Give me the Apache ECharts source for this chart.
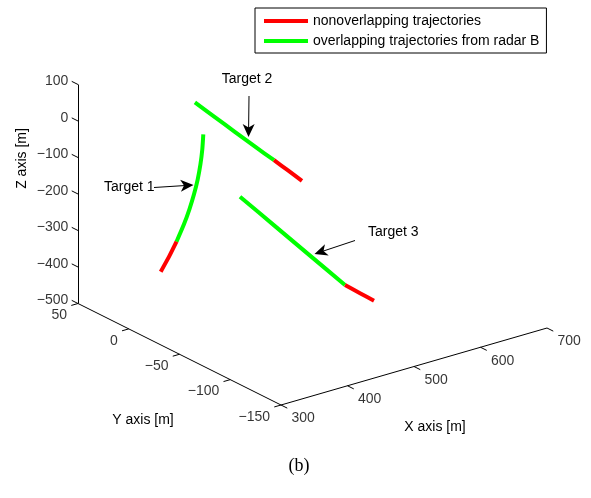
<!DOCTYPE html>
<html>
<head>
<meta charset="utf-8">
<script src="https://cdn.jsdelivr.net/npm/echarts@6/dist/echarts.min.js"></script>
<style>
  html, body { margin: 0; padding: 0; background: #fff; }
  #chart { width: 591px; height: 498px; }
</style>
</head>
<body>
<div id="chart"></div>
<script>
// Trajectory samples, [X, Y, Z] in metres
const target1Overlap = [[412.1, 0, -26.0], [410.6, 0, -66.4], [407.8, 0, -106.0], [403.7, 0, -144.9],
                        [398.1, 0, -183.1], [391.2, 0, -220.5], [383.0, 0, -257.3], [371.8, 0, -299.0]];
const target1Nonoverlap = [[371.8, 0, -299.0], [360.6, 0, -334.2], [348.1, 0, -368.7]];

const target2Overlap = [[430, 20, 24], [460, 20, -32], [490, 20, -88], [520, 20, -144], [549, 20, -197]];
const target2Nonoverlap = [[549, 20, -197], [570, 20, -236], [591, 20, -276]];

const target3Overlap = [[375.7, -60, -94.4], [428.3, -60, -202.7], [481.0, -60, -311.3], [533.6, -60, -419.6]];
const target3Nonoverlap = [[533.6, -60, -419.6], [556.2, -60, -454.2], [577.2, -60, -485.6]];

// Axis limits and ticks
const xRange = [300, 700];
const yRange = [-150, 50];
const zRange = [-500, 100];
const xTicks = [300, 400, 500, 600, 700];
const yTicks = [50, 0, -50, -100, -150];
const zTicks = [100, 0, -100, -200, -300, -400, -500];

const seriesNames = ['nonoverlapping trajectories', 'overlapping trajectories from radar B'];
const targetNames = ['Target 1', 'Target 2', 'Target 3'];

// Orthographic view: screen point of the (xMin, yMin, zMin) corner and the screen span of each axis
const view = {
  origin: [281, 405],
  xSpan: [266, -77],
  ySpan: [-203, -101.5],
  zSpan: [0, -219]
};

function project(p) {
  const u = (p[0] - xRange[0]) / (xRange[1] - xRange[0]);
  const v = (p[1] - yRange[0]) / (yRange[1] - yRange[0]);
  const w = (p[2] - zRange[0]) / (zRange[1] - zRange[0]);
  return [
    view.origin[0] + u * view.xSpan[0] + v * view.ySpan[0] + w * view.zSpan[0],
    view.origin[1] + u * view.xSpan[1] + v * view.ySpan[1] + w * view.zSpan[1]
  ];
}
function unit(vec) {
  const l = Math.hypot(vec[0], vec[1]);
  return [vec[0] / l, vec[1] / l];
}

const FONT = '"Liberation Sans", Arial, Helvetica, sans-serif';
const TICK = 7;
const RED = '#ff0000';
const GREEN = '#00ff00';

// Box edges that are drawn: X along y=min, Y along x=min, Z at (x=min, y=max)
const axisSegs = [
  [[xRange[0], yRange[0], zRange[0]], [xRange[1], yRange[0], zRange[0]]],
  [[xRange[0], yRange[0], zRange[0]], [xRange[0], yRange[1], zRange[0]]],
  [[xRange[0], yRange[1], zRange[0]], [xRange[0], yRange[1], zRange[1]]]
].map(s => ({ coords: s.map(project) }));

const yDir = unit(view.ySpan);
const xDir = unit(view.xSpan);
const tickSegs = [];
const tickLabels = [];
xTicks.forEach(t => {
  const a = project([t, yRange[0], zRange[0]]);
  tickSegs.push({ coords: [a, [a[0] - yDir[0] * TICK, a[1] - yDir[1] * TICK]] });
  tickLabels.push({ value: [a[0] + 10.5, a[1] + 13.5], text: String(t), align: 'left' });
});
yTicks.forEach(t => {
  const a = project([xRange[0], t, zRange[0]]);
  tickSegs.push({ coords: [a, [a[0] - xDir[0] * TICK, a[1] - xDir[1] * TICK]] });
  tickLabels.push({ value: [a[0] - 11, a[1] + 12], text: String(t).replace('-', '\u2212'), align: 'right' });
});
zTicks.forEach(t => {
  const a = project([xRange[0], yRange[1], t]);
  const e = [a[0] + yDir[0] * TICK, a[1] + yDir[1] * TICK];
  tickSegs.push({ coords: [a, e] });
  tickLabels.push({ value: [e[0] - 3.5, e[1]], text: String(t).replace('-', '\u2212'), align: 'right' });
});

function trajSeries(name, pts, color) {
  return {
    type: 'line', name: name, data: pts.map(project), color: color,
    showSymbol: false, symbol: 'none', smooth: 0.2,
    lineStyle: { width: 4, color: color, cap: 'butt', join: 'round' },
    z: 5, silent: true
  };
}

// Axis titles sit beside the middle of each axis
const xMid = project([(xRange[0] + xRange[1]) / 2, yRange[0], zRange[0]]);
const yMid = project([xRange[0], (yRange[0] + yRange[1]) / 2, zRange[0]]);
const zMid = project([xRange[0], yRange[1], (zRange[0] + zRange[1]) / 2 + 100]);

// Callouts: label anchor, arrow tail, arrow tip
const callouts = [
  { text: targetNames[0], label: [104, 187], align: 'left', tail: [154, 187.5], tip: [193.5, 185] },
  { text: targetNames[1], label: [247, 79], align: 'center', tail: [249, 96], tip: [248.5, 137] },
  { text: targetNames[2], label: [368, 232], align: 'left', tail: [355, 240.5], tip: [314.5, 254] }
];

function arrowHead(tail, tip) {
  const d = unit([tip[0] - tail[0], tip[1] - tail[1]]);
  const n = [-d[1], d[0]];
  const L = 13, W = 6, notch = 9.5;
  return [
    tip,
    [tip[0] - d[0] * L + n[0] * W, tip[1] - d[1] * L + n[1] * W],
    [tip[0] - d[0] * notch, tip[1] - d[1] * notch],
    [tip[0] - d[0] * L - n[0] * W, tip[1] - d[1] * L - n[1] * W]
  ];
}

const graphics = [];
callouts.forEach(c => {
  const d = unit([c.tip[0] - c.tail[0], c.tip[1] - c.tail[1]]);
  graphics.push({
    type: 'line', silent: true,
    shape: { x1: c.tail[0], y1: c.tail[1], x2: c.tip[0] - d[0] * 9, y2: c.tip[1] - d[1] * 9 },
    style: { stroke: '#000', lineWidth: 1 }
  });
  graphics.push({
    type: 'polygon', silent: true,
    shape: { points: arrowHead(c.tail, c.tip) },
    style: { fill: '#000' }
  });
  graphics.push({
    type: 'text', silent: true, x: c.label[0], y: c.label[1],
    style: { text: c.text, font: '14px ' + FONT, fill: '#000', align: c.align, verticalAlign: 'middle' }
  });
});
graphics.push({
  type: 'text', silent: true, x: xMid[0] + 21, y: xMid[1] + 60.5,
  style: { text: 'X axis [m]', font: '14px ' + FONT, fill: '#000', align: 'center', verticalAlign: 'middle' }
});
graphics.push({
  type: 'text', silent: true, x: yMid[0] - 36.5, y: yMid[1] + 66,
  style: { text: 'Y axis [m]', font: '14px ' + FONT, fill: '#000', align: 'center', verticalAlign: 'middle' }
});
graphics.push({
  type: 'text', silent: true, x: zMid[0] - 56, y: zMid[1] + 1, rotation: Math.PI / 2,
  style: { text: 'Z axis [m]', font: '14px ' + FONT, fill: '#000', align: 'center', verticalAlign: 'middle' }
});
graphics.push({
  type: 'text', silent: true, x: 299, y: 466,
  style: { text: '(b)', font: '18px "Liberation Serif", "Times New Roman", serif', fill: '#000', align: 'center', verticalAlign: 'middle' }
});

const chart = echarts.init(document.getElementById('chart'), null, { renderer: 'canvas' });
chart.setOption({
  animation: false,
  backgroundColor: '#fff',
  grid: { left: 0, right: 0, top: 0, bottom: 0 },
  xAxis: { type: 'value', min: 0, max: 591, show: false },
  yAxis: { type: 'value', min: 0, max: 498, inverse: true, show: false },
  legend: {
    left: 255, top: 8, orient: 'vertical',
    data: [seriesNames[0], seriesNames[1]],
    icon: 'rect', itemWidth: 44, itemHeight: 4, itemGap: 4,
    padding: [5, 7, 4, 9],
    borderColor: '#000', borderWidth: 1, backgroundColor: '#fff',
    textStyle: { fontFamily: FONT, fontSize: 14, color: '#000', lineHeight: 16 },
    selectedMode: false
  },
  series: [
    {
      type: 'lines', coordinateSystem: 'cartesian2d', silent: true,
      data: axisSegs.concat(tickSegs),
      lineStyle: { color: '#000', width: 1, opacity: 1 }, z: 2
    },
    {
      type: 'scatter', silent: true, symbolSize: 0,
      data: tickLabels.map(t => ({
        value: t.value,
        label: { show: true, position: [0, 0], formatter: t.text, align: t.align, verticalAlign: 'middle' }
      })),
      label: { fontFamily: FONT, fontSize: 14, color: '#000' }, z: 3
    },
    trajSeries(seriesNames[1], target1Overlap, GREEN),
    trajSeries(seriesNames[0], target1Nonoverlap, RED),
    trajSeries(seriesNames[1], target2Overlap, GREEN),
    trajSeries(seriesNames[0], target2Nonoverlap, RED),
    trajSeries(seriesNames[1], target3Overlap, GREEN),
    trajSeries(seriesNames[0], target3Nonoverlap, RED)
  ],
  graphic: graphics
});
</script>
</body>
</html>
